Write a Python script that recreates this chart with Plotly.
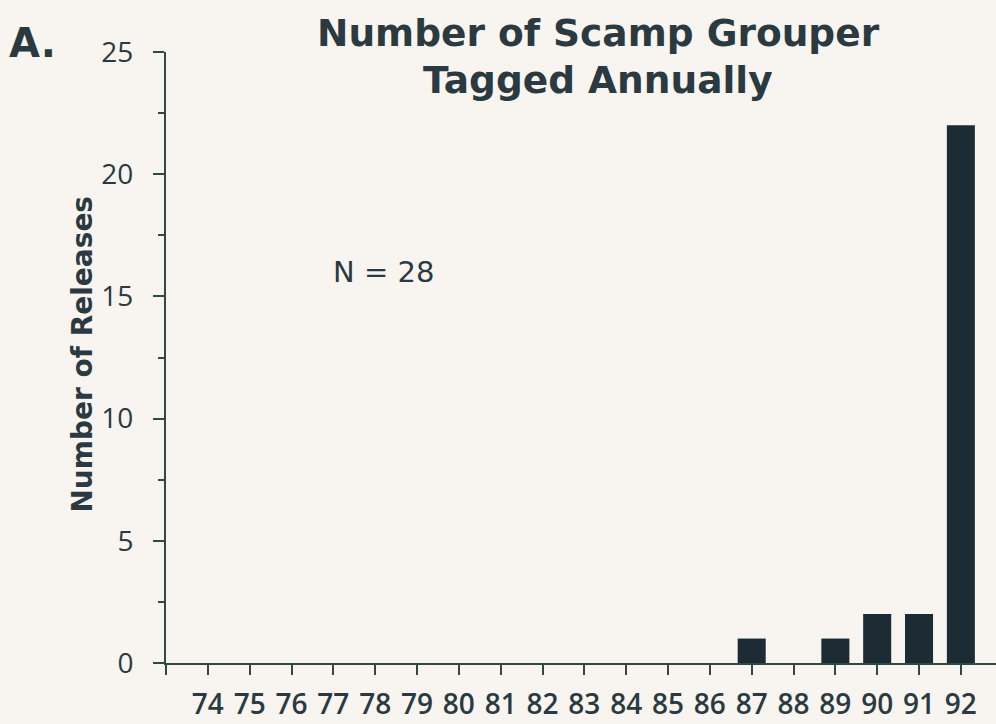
import plotly.graph_objects as go

# Annual scamp grouper tag releases
years = [74, 75, 76, 77, 78, 79, 80, 81, 82, 83, 84, 85, 86, 87, 88, 89, 90, 91, 92]
releases = [0, 0, 0, 0, 0, 0, 0, 0, 0, 0, 0, 0, 0, 1, 0, 1, 2, 2, 22]
year_labels = [str(y) for y in years]

y_ticks = [0, 5, 10, 15, 20, 25]
total = sum(releases)

INK = "#2a3a40"
BAR = "#1d2c34"
AXIS = "#2f4a40"
BG = "#f8f5f0"
FONT = "DejaVu Sans"
TICK_FONT = "Open Sans"

# one extra unlabeled tick sits at the axis origin, one slot before the first year
x_tickvals = [years[0] - 1] + years
x_ticktext = [""] + year_labels

fig = go.Figure()
fig.add_trace(go.Bar(
    x=years,
    y=releases,
    width=0.67,
    marker=dict(color=BAR, line=dict(width=0)),
    hoverinfo="x+y",
))

fig.update_layout(
    width=996,
    height=724,
    margin=dict(l=166, r=0, t=52, b=61),
    paper_bgcolor=BG,
    plot_bgcolor=BG,
    showlegend=False,
    font=dict(family=FONT, color=INK, size=24),
    xaxis=dict(
        range=[years[0] - 1, years[-1] + 0.84],
        tickmode="array",
        tickvals=x_tickvals,
        ticktext=x_ticktext,
        ticks="outside",
        ticklen=10,
        tickwidth=1.5,
        tickcolor=AXIS,
        showline=True,
        linecolor=AXIS,
        linewidth=2,
        showgrid=False,
        zeroline=False,
        tickfont=dict(family=TICK_FONT, size=28, color=INK, weight=600),
        ticklabelstandoff=5,
    ),
    yaxis=dict(
        range=[0, 25],
        tickmode="array",
        tickvals=y_ticks,
        ticktext=[str(v) for v in y_ticks],
        ticks="outside",
        ticklen=11,
        tickwidth=1.5,
        tickcolor=AXIS,
        minor=dict(dtick=2.5, tick0=0, ticks="outside", ticklen=6, tickwidth=1.5, tickcolor=AXIS),
        showline=True,
        linecolor=AXIS,
        linewidth=2,
        showgrid=False,
        zeroline=False,
        tickfont=dict(family=TICK_FONT, size=28, color=INK, weight=500),
        ticklabelstandoff=14,
    ),
)

annotations = [
    dict(text="Number of Scamp Grouper", x=0.5205, y=1.031, font=dict(size=37.5, weight="bold")),
    dict(text="Tagged Annually", x=0.5205, y=0.954, font=dict(size=37.5, weight="bold")),
    dict(text="A.", x=-0.161, y=1.015, font=dict(size=40, weight="bold")),
    dict(text="Number of Releases", x=-0.101, y=0.505, textangle=-90, font=dict(size=28, weight="bold")),
]
for a in annotations:
    fig.add_annotation(
        xref="paper", yref="paper", showarrow=False,
        xanchor="center", yanchor="middle",
        text=a["text"], x=a["x"], y=a["y"],
        textangle=a.get("textangle", 0),
        font=dict(family=FONT, color=INK, **a["font"]),
    )

fig.add_annotation(
    xref="x", yref="y", x=78.2, y=16.0, showarrow=False,
    text=f"N = {total}", xanchor="center", yanchor="middle",
    font=dict(family=FONT, color=INK, size=29),
)

fig.write_html("out.html")
